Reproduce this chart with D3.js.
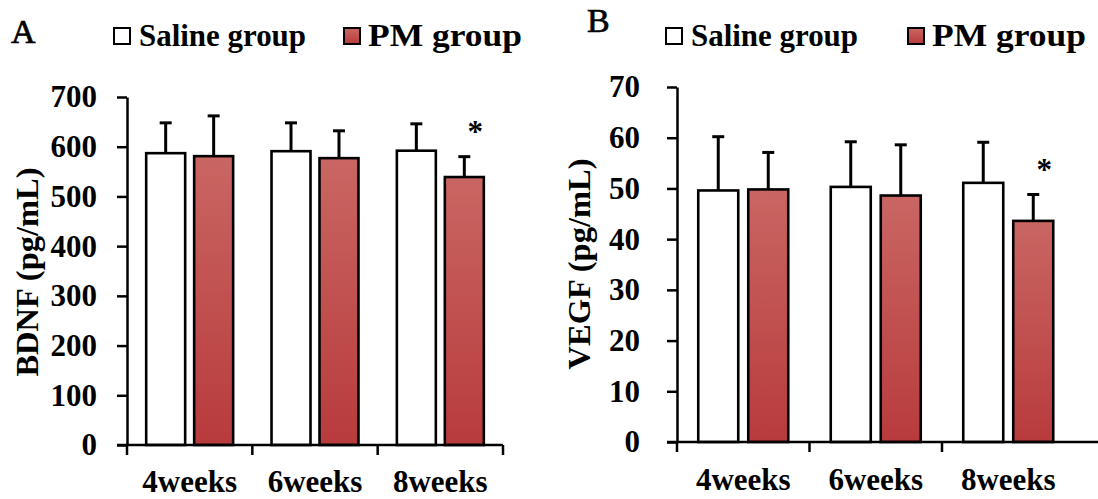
<!DOCTYPE html>
<html>
<head>
<meta charset="utf-8">
<script src="https://cdn.jsdelivr.net/npm/d3@7"></script>
<style>
  body { margin: 0; background: #fff; }
  svg text { font-family: "Liberation Serif", "Times New Roman", serif; font-weight: bold; fill: #000; }
</style>
</head>
<body>
<svg id="chart" width="1098" height="499"></svg>
<script>
// data
var weeks = ["4weeks", "6weeks", "8weeks"];
var groups = ["Saline group", "PM group"];

var bdnfSaline = [587, 591, 592];
var bdnfSalineSd = [61, 57, 54];
var bdnfPM = [581, 577, 539];
var bdnfPMSd = [81, 55, 41];
var bdnfTicks = [0, 100, 200, 300, 400, 500, 600, 700];

var vegfSaline = [49.6, 50.3, 51.1];
var vegfSalineSd = [10.6, 8.9, 8.0];
var vegfPM = [49.8, 48.6, 43.6];
var vegfPMSd = [7.3, 10.0, 5.2];
var vegfTicks = [0, 10, 20, 30, 40, 50, 60, 70];

var star = ["", "", "*"];

var svg = d3.select("#chart");

// gradient for PM bars
var defs = svg.append("defs");
var grad = defs.append("linearGradient")
    .attr("id", "pmFill")
    .attr("x1", 0).attr("y1", 0).attr("x2", 0).attr("y2", 1);
grad.append("stop").attr("offset", "0%").attr("stop-color", "#c96663");
grad.append("stop").attr("offset", "100%").attr("stop-color", "#b83b3c");

function drawPanel(opt) {
    var g = svg.append("g");

    var x = d3.scaleBand().domain(weeks).range([opt.x0, opt.x1]);
    var sub = d3.scaleBand().domain(groups)
        .range([0, x.bandwidth()])
        .paddingInner(opt.padIn)
        .paddingOuter(opt.padOut);
    var y = d3.scaleLinear().domain([0, d3.max(opt.ticks)]).range([opt.yZero, opt.yTop]);

    var rows = [];
    weeks.forEach(function(w, i) {
        rows.push({week: w, group: groups[0], v: opt.saline[i], sd: opt.salineSd[i], star: ""});
        rows.push({week: w, group: groups[1], v: opt.pm[i], sd: opt.pmSd[i], star: star[i]});
    });

    // y axis
    var yAxis = g.append("g")
        .attr("transform", "translate(" + opt.x0 + ",0)")
        .call(d3.axisLeft(y)
            .tickValues(opt.ticks)
            .tickSize(10)
            .tickSizeOuter(0)
            .tickPadding(opt.tickPad));
    yAxis.selectAll("path, line").attr("stroke", "#000").attr("stroke-width", 2.5);
    yAxis.selectAll("text")
        .style("font-family", "Liberation Serif")
        .style("font-weight", "bold")
        .style("font-size", "31px")
        .attr("fill", "#000");

    // bars
    g.selectAll("rect.bar")
        .data(rows)
        .enter().append("rect")
        .attr("class", "bar")
        .attr("x", function(d) { return x(d.week) + sub(d.group); })
        .attr("width", sub.bandwidth())
        .attr("y", function(d) { return y(d.v); })
        .attr("height", function(d) { return y(0) - y(d.v); })
        .attr("fill", function(d) { return d.group == groups[0] ? "#fff" : "url(#pmFill)"; })
        .attr("stroke", "#000")
        .attr("stroke-width", 2.6);

    // error bars (upper only)
    var eb = g.selectAll("g.err").data(rows).enter().append("g").attr("class", "err");
    eb.append("line")
        .attr("x1", function(d) { return x(d.week) + sub(d.group) + sub.bandwidth() / 2; })
        .attr("x2", function(d) { return x(d.week) + sub(d.group) + sub.bandwidth() / 2; })
        .attr("y1", function(d) { return y(d.v); })
        .attr("y2", function(d) { return y(d.v + d.sd); })
        .attr("stroke", "#000").attr("stroke-width", 3);
    eb.append("line")
        .attr("x1", function(d) { return x(d.week) + sub(d.group) + sub.bandwidth() / 2 - 6; })
        .attr("x2", function(d) { return x(d.week) + sub(d.group) + sub.bandwidth() / 2 + 6; })
        .attr("y1", function(d) { return y(d.v + d.sd); })
        .attr("y2", function(d) { return y(d.v + d.sd); })
        .attr("stroke", "#000").attr("stroke-width", 3);

    // significance star
    g.selectAll("text.star")
        .data(rows.filter(function(d) { return d.star; }))
        .enter().append("text")
        .attr("class", "star")
        .attr("x", function(d) { return x(d.week) + sub(d.group) + sub.bandwidth() / 2 + 11; })
        .attr("y", function(d) { return y(d.v + d.sd) - 15; })
        .attr("text-anchor", "middle")
        .style("font-size", "31px")
        .text(function(d) { return d.star; });

    // x axis line and boundary ticks
    g.append("line")
        .attr("x1", opt.x0 - 10).attr("x2", opt.axisEnd)
        .attr("y1", y(0)).attr("y2", y(0))
        .attr("stroke", "#000").attr("stroke-width", 2.5);
    var bounds = weeks.map(function(w) { return x(w); });
    if (opt.endTick) bounds.push(opt.x1);
    g.selectAll("line.xt")
        .data(bounds)
        .enter().append("line")
        .attr("class", "xt")
        .attr("x1", function(d) { return d; }).attr("x2", function(d) { return d; })
        .attr("y1", y(0)).attr("y2", y(0) + 10)
        .attr("stroke", "#000").attr("stroke-width", 2.5);

    // category labels
    g.selectAll("text.cat")
        .data(weeks)
        .enter().append("text")
        .attr("class", "cat")
        .attr("x", function(d) { return x(d) + x.bandwidth() / 2; })
        .attr("y", opt.catY)
        .attr("text-anchor", "middle")
        .style("font-size", "31px")
        .text(function(d) { return d; });

    // y title
    g.append("text")
        .attr("transform", "translate(" + opt.titleX + "," + opt.titleY + ") rotate(-90)")
        .attr("text-anchor", "middle")
        .style("font-size", "32.5px")
        .text(opt.title);

    // panel letter
    g.append("text")
        .attr("x", opt.letterX).attr("y", opt.letterY)
        .style("font-size", "34px")
        .style("font-weight", "normal")
        .style("stroke", "#000").style("stroke-width", 0.7)
        .text(opt.letter);

    // legend
    var lg = g.append("g");
    lg.append("rect")
        .attr("x", opt.legX[0]).attr("y", 28).attr("width", 16).attr("height", 16)
        .attr("fill", "#fff").attr("stroke", "#000").attr("stroke-width", 2);
    lg.append("text")
        .attr("x", opt.legX[0] + 25).attr("y", 46)
        .attr("textLength", 167).attr("lengthAdjust", "spacingAndGlyphs")
        .style("font-size", "31px")
        .text(groups[0]);
    lg.append("rect")
        .attr("x", opt.legX[1]).attr("y", 28).attr("width", 16).attr("height", 16)
        .attr("fill", "url(#pmFill)").attr("stroke", "#000").attr("stroke-width", 2);
    lg.append("text")
        .attr("x", opt.legX[1] + 24).attr("y", 46)
        .attr("textLength", 154).attr("lengthAdjust", "spacingAndGlyphs")
        .style("font-size", "31px")
        .text(groups[1]);
}

drawPanel({
    x0: 127, x1: 503, axisEnd: 503, endTick: true,
    yZero: 445, yTop: 97,
    padIn: 0.1875, padOut: 0.4,
    ticks: bdnfTicks, tickPad: 20,
    saline: bdnfSaline, salineSd: bdnfSalineSd, pm: bdnfPM, pmSd: bdnfPMSd,
    catY: 492, title: "BDNF (pg/mL)", titleX: 38, titleY: 272,
    letter: "A", letterX: 11, letterY: 43,
    legX: [114, 344]
});

drawPanel({
    x0: 677, x1: 1074.5, axisEnd: 1098, endTick: false,
    yZero: 442, yTop: 87,
    padIn: 0.2, padOut: 0.425,
    ticks: vegfTicks, tickPad: 27,
    saline: vegfSaline, salineSd: vegfSalineSd, pm: vegfPM, pmSd: vegfPMSd,
    catY: 490, title: "VEGF (pg/mL)", titleX: 590, titleY: 264,
    letter: "B", letterX: 587, letterY: 32,
    legX: [666, 908]
});
</script>
</body>
</html>
